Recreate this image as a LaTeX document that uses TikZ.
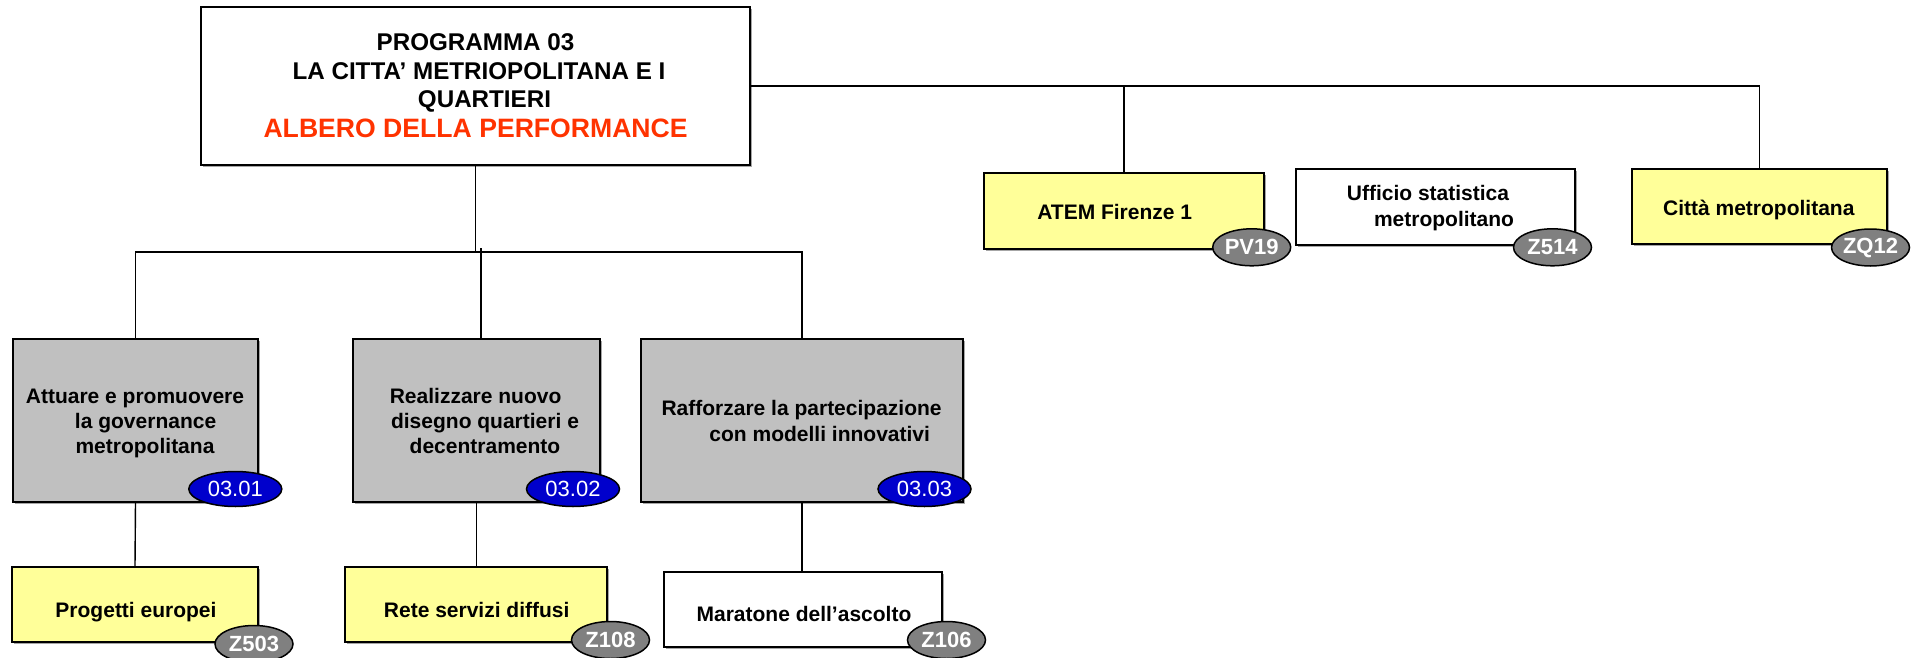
\documentclass[tikz,border=0pt]{standalone}
\usepackage{fontspec}
\setmainfont{Liberation Sans}
\usetikzlibrary{shapes.geometric,shadows}
\definecolor{boxgray}{HTML}{C0C0C0}
\definecolor{boxyellow}{HTML}{FFFF99}
\definecolor{ovalblue}{HTML}{0000CC}
\definecolor{ovalgray}{HTML}{808080}
\definecolor{titlered}{HTML}{FF3300}
\begin{document}
\begin{tikzpicture}[x=1pt,y=-1pt,
  every node/.style={inner sep=0pt, outer sep=0pt},
  box/.style={draw=black, line width=2pt, rectangle,
    drop shadow={shadow xshift=2pt, shadow yshift=-2pt, fill=black, opacity=0.35}},
  graybox/.style={box, fill=boxgray},
  yellowbox/.style={box, fill=boxyellow},
  whitebox/.style={box, fill=white},
  conn/.style={draw=black, line width=1.4pt},
  blueoval/.style={ellipse, draw=black, line width=1.5pt, fill=ovalblue,
    minimum width=93pt, minimum height=35pt, text=white,
    font=\fontsize{22}{26}\selectfont},
  grayoval/.style={ellipse, draw=black, line width=1.5pt, fill=ovalgray,
    minimum width=78pt, minimum height=37pt, text=white,
    font=\bfseries\fontsize{22}{26}\selectfont},
  lbl/.style={anchor=base, font=\bfseries\fontsize{21}{25}\selectfont},
  ttl/.style={anchor=base, font=\bfseries\fontsize{24.2}{28}\selectfont},
]
\fill[white] (0,0) rectangle (1924,658);
\useasboundingbox (0,0) rectangle (1924,658);

% boxes
\node[whitebox, minimum width=549pt, minimum height=158pt] (top) at (475.5,86) {};
\node[graybox, minimum width=245pt, minimum height=163pt] (b1) at (135.5,420.5) {};
\node[graybox, minimum width=247pt, minimum height=163pt] (b2) at (476.5,420.5) {};
\node[graybox, minimum width=322pt, minimum height=163pt] (b3) at (802,420.5) {};
\node[yellowbox, minimum width=246pt, minimum height=75pt] (p1) at (135,604.2) {};
\node[yellowbox, minimum width=262pt, minimum height=75pt] (p2) at (476,604.2) {};
\node[whitebox, minimum width=278pt, minimum height=75pt] (p3) at (802.5,609.2) {};
\node[yellowbox, minimum width=280pt, minimum height=76pt] (atem) at (1124,211.3) {};
\node[whitebox, minimum width=279pt, minimum height=76pt] (uff) at (1435.5,207.2) {};
\node[yellowbox, minimum width=255pt, minimum height=75pt] (cit) at (1759.3,206.7) {};

% connectors
\coordinate (hbar) at (0,252);
\coordinate (m2top) at (481,248);
\draw[conn] (top.south) -- (top.south |- hbar);
\draw[conn] (b1.north) |- (b3.north |- hbar) -- (b3.north);
\draw[conn] (m2top) -- (m2top |- b2.north);
\draw[conn] (top.east) -- (cit.north |- top.east) -- (cit.north);
\draw[conn] (atem.north |- top.east) -- (atem.north);
\draw[conn] (b1.south) -- (p1.north);
\draw[conn] (b2.south) -- (b2.south |- p2.north);
\draw[conn] (b3.south) -- (b3.south |- p3.north);

% title texts
\node[ttl] (t1) at (475.5,50.7) {PROGRAMMA 03};
\node[ttl] (t2) at (479,79.3) {LA CITTA’ METRIOPOLITANA E I};
\node[ttl] (t3) at (484.5,107.7) {QUARTIERI};
\node[anchor=base, text=titlered, font=\bfseries\fontsize{26.6}{30}\selectfont] (t4) at (475.6,138) {ALBERO DELLA PERFORMANCE};

% row 2 texts
\node[lbl] (a1) at (135,403) {Attuare e promuovere};
\node[lbl] (a2) at (145.6,428) {la governance};
\node[lbl] (a3) at (145,453) {metropolitana};
\node[lbl] (r1) at (475.6,403) {Realizzare nuovo};
\node[lbl] (r2) at (485,428) {disegno quartieri e};
\node[lbl] (r3) at (485,453) {decentramento};
\node[lbl] (f1) at (801.6,415.7) {Rafforzare la partecipazione};
\node[lbl] (f2) at (819.7,441.7) {con modelli innovativi};

% row 3 texts
\node[lbl] (pe) at (136,617) {Progetti europei};
\node[lbl] (rs) at (476.7,617) {Rete servizi diffusi};
\node[lbl] (ma) at (804,621) {Maratone dell’ascolto};

% right texts
\node[lbl] (at) at (1114.7,219) {ATEM Firenze 1};
\node[lbl] (us1) at (1428,200) {Ufficio statistica};
\node[lbl] (us2) at (1444,226) {metropolitano};
\node[lbl] (cm) at (1758.8,215.5) {Città metropolitana};

% ovals
\node[blueoval] (o1) at (235.3,489) {03.01};
\node[blueoval] (o2) at (573,489) {03.02};
\node[blueoval] (o3) at (924.5,489) {03.03};
\node[grayoval] (z503) at (254,644) {Z503};
\node[grayoval] (z108) at (610.5,640) {Z108};
\node[grayoval] (z106) at (946.5,640) {Z106};
\node[grayoval] (pv19) at (1251.7,247.3) {PV19};
\node[grayoval] (z514) at (1552.5,247.3) {Z514};
\node[grayoval] (zq12) at (1870.5,247.5) {ZQ12};
\end{tikzpicture}
\end{document}
